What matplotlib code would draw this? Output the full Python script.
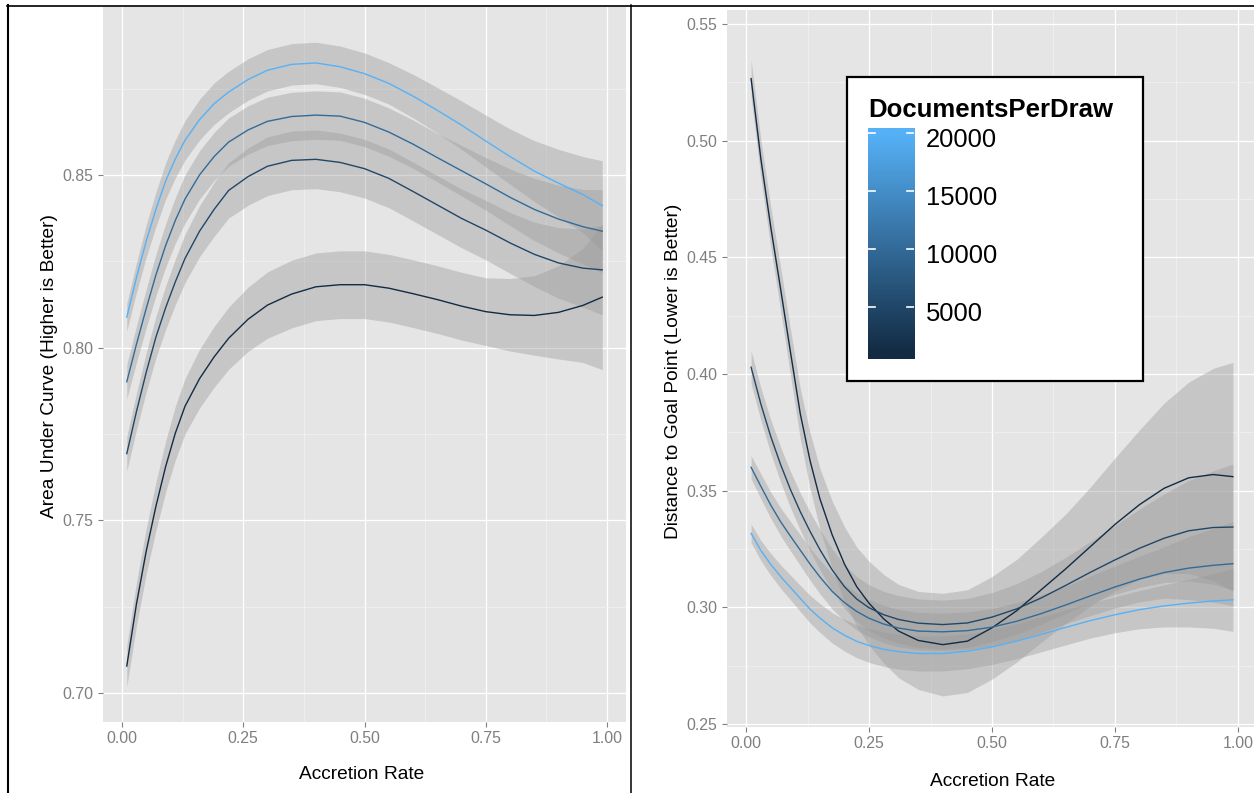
import matplotlib
matplotlib.use("Agg")
import numpy as np
import matplotlib.pyplot as plt
from matplotlib.colors import LinearSegmentedColormap, Normalize
from matplotlib.lines import Line2D
from matplotlib.patches import Rectangle
from matplotlib.ticker import FormatStrFormatter

plt.rcParams["font.family"] = ["Liberation Sans", "DejaVu Sans"]

W, H = 1254, 793

# ---- left panel: Area Under Curve (smooth fit + band half width) ----------
auc_x = [.01, .03, .05, .07, .09, .11, .13, .16, .19, .22, .26, .30, .35, .40, .45, .50,
         .55, .60, .65, .70, .75, .80, .85, .90, .95, .99]

auc_y_20000 = [.8088, .8203, .8308, .8400, .8482, .8546, .8600, .8660, .8706, .8740, .8776, .8803, .8820,
               .8824, .8813, .8793, .8765, .8728, .8687, .8644, .8598, .8553, .8511, .8476, .8443, .8411]
auc_se_20000 = [.004, .0043, .0047, .005, .0053, .0055, .0057, .0059, .006, .006, .006, .006, .006,
                .006, .006, .006, .006, .0063, .0066, .007, .0075, .008, .0088, .0098, .011, .013]

auc_y_10000 = [.7901, .8010, .8113, .8210, .8295, .8368, .8430, .8500, .8553, .8595, .8630, .8655, .8669,
               .8673, .8670, .8652, .8624, .8589, .8550, .8512, .8474, .8435, .8400, .8372, .8350, .8337]
auc_se_10000 = [.005, .0053, .0056, .006, .0063, .0066, .007, .007, .007, .007, .007, .007, .007,
                .007, .007, .007, .007, .007, .007, .0073, .0076, .0082, .009, .0098, .0108, .012]

auc_y_5000 = [.7693, .7815, .7928, .8030, .8115, .8190, .8258, .8337, .8400, .8455, .8495, .8525, .8542,
              .8545, .8536, .8518, .8490, .8452, .8413, .8374, .8340, .8303, .8270, .8245, .8230, .8225]
auc_se_5000 = [.005, .0053, .0057, .006, .0063, .0066, .007, .0074, .0078, .008, .0083, .0085, .0085,
               .0085, .0085, .0085, .0085, .0085, .0085, .0085, .0086, .0088, .0093, .0102, .0113, .013]

auc_y_1000 = [.7078, .7258, .7410, .7540, .7655, .7752, .7830, .7910, .7973, .8027, .8082, .8123, .8155,
              .8176, .8182, .8182, .8172, .8156, .8139, .8120, .8104, .8095, .8093, .8102, .8122, .8146]
auc_se_1000 = [.006, .0063, .0066, .007, .0074, .0078, .008, .0085, .0088, .009, .0093, .0096, .0098,
               .0098, .0098, .0098, .0098, .0098, .0098, .0098, .0098, .0105, .0115, .0135, .0165, .021]

# ---- right panel: Distance to Goal Point -----------------------------------
dist_x = [.01, .03, .05, .07, .09, .11, .13, .15, .175, .20, .225, .25, .28, .31, .35, .40,
          .45, .50, .55, .60, .65, .70, .75, .80, .85, .90, .95, .99]

dist_y_20000 = [.3317, .3243, .3184, .3132, .3085, .3038, .2992, .2954, .2912, .2880, .2854, .2836, .2820, .2810,
                .2802, .2802, .2812, .2830, .2855, .2884, .2914, .2943, .2968, .2990, .3006, .3018, .3027, .3032]
dist_se_20000 = [.004, .0043, .0047, .005, .0053, .0056, .0059, .0062, .0065, .0068, .007, .0072, .0074, .0075,
                 .0075, .0075, .0075, .0075, .0075, .0075, .0075, .0075, .0077, .0082, .009, .0102, .0117, .0135]

dist_y_10000 = [.3600, .3518, .3438, .3367, .3305, .3245, .3185, .3130, .3068, .3020, .2982, .2953, .2928, .2911,
                .2898, .2895, .2900, .2915, .2940, .2973, .3010, .3049, .3087, .3121, .3149, .3168, .3180, .3187]
dist_se_10000 = [.005, .0053, .0056, .006, .0063, .0066, .0069, .0072, .0075, .0078, .008, .008, .008, .008,
                 .008, .008, .008, .008, .008, .008, .008, .0085, .009, .0098, .011, .0135, .0158, .018]

dist_y_5000 = [.4029, .3870, .3732, .3612, .3505, .3410, .3325, .3247, .3160, .3088, .3035, .2998, .2968, .2948,
               .2932, .2926, .2933, .2958, .2993, .3040, .3094, .3150, .3203, .3253, .3296, .3328, .3342, .3344]
dist_se_5000 = [.007, .007, .0072, .0075, .0078, .008, .0083, .0086, .009, .0093, .0096, .0098, .01, .0102,
                .0104, .0105, .0105, .0105, .0108, .0113, .012, .0132, .0148, .0168, .019, .0215, .0243, .027]

dist_y_1000 = [.5266, .4920, .4630, .4365, .4095, .3830, .3628, .3465, .3310, .3185, .3088, .3017, .2950, .2898,
               .2858, .2840, .2855, .2912, .2985, .3075, .3165, .3260, .3355, .3440, .3510, .3555, .3569, .3560]
dist_se_1000 = [.008, .0082, .0087, .0093, .0099, .0108, .012, .013, .0145, .016, .017, .018, .019, .020,
                .021, .022, .022, .022, .022, .0225, .0235, .0255, .0285, .032, .0365, .041, .0455, .049]

docs_per_draw = [1000, 5000, 10000, 20000]
auc_series = [(auc_y_1000, auc_se_1000), (auc_y_5000, auc_se_5000),
              (auc_y_10000, auc_se_10000), (auc_y_20000, auc_se_20000)]
dist_series = [(dist_y_1000, dist_se_1000), (dist_y_5000, dist_se_5000),
               (dist_y_10000, dist_se_10000), (dist_y_20000, dist_se_20000)]

x_ticks = [0.0, 0.25, 0.5, 0.75, 1.0]
auc_yticks = [0.70, 0.75, 0.80, 0.85]
dist_yticks = [0.25, 0.30, 0.35, 0.40, 0.45, 0.50, 0.55]
cb_limits = (1000, 20000)
cb_ticks = [5000, 10000, 15000, 20000]

cmap = LinearSegmentedColormap.from_list("gg_blue", ["#132B43", "#56B1F7"])
norm = Normalize(*cb_limits)
GREY = "#7F7F7F"


def px_box(l, t, r, b):
    return [l / W, 1 - b / H, (r - l) / W, (b - t) / H]


def midpoints(v):
    v = np.asarray(v)
    return (v[:-1] + v[1:]) / 2


def style(ax, ylim, yticks):
    ax.set_facecolor("#E5E5E5")
    ax.set_xticks(x_ticks)
    ax.set_yticks(yticks)
    ax.set_xticks(midpoints(x_ticks), minor=True)
    ax.set_yticks(list(midpoints(yticks)) + [yticks[-1] + 0.025], minor=True)
    # limits after ticks, otherwise set_yticks widens them
    ax.set_xlim(-0.039, 1.039)
    ax.set_ylim(*ylim)
    ax.xaxis.set_major_formatter(FormatStrFormatter("%.2f"))
    ax.yaxis.set_major_formatter(FormatStrFormatter("%.2f"))
    ax.grid(which="major", color="white", lw=0.9)
    ax.grid(which="minor", color="#F2F2F2", lw=0.5)
    ax.set_axisbelow(True)
    ax.tick_params(which="minor", length=0)
    ax.tick_params(which="major", length=3.6, width=0.8, color=GREY,
                   labelcolor=GREY, labelsize=11.4, pad=3.2)
    for s in ax.spines.values():
        s.set_visible(False)


def smooth_layers(ax, xs, series):
    xs = np.asarray(xs)
    for val, (ys, se) in zip(docs_per_draw, series):
        ys, se = np.asarray(ys), np.asarray(se)
        ax.fill_between(xs, ys - se, ys + se, color="#999999", alpha=0.4, lw=0)
        ax.plot(xs, ys, color=cmap(norm(val)), lw=1.0)


fig = plt.figure(figsize=(W / 100, H / 100), dpi=100)

ax1 = fig.add_axes(px_box(103, 7, 626, 722))
style(ax1, (0.6916, 0.8986), auc_yticks)
smooth_layers(ax1, auc_x, auc_series)

ax2 = fig.add_axes(px_box(727, 10, 1257, 727))
style(ax2, (0.2487, 0.556), dist_yticks)
smooth_layers(ax2, dist_x, dist_series)

# axis titles
fig.text(362 / W, 1 - 779 / H, "Accretion Rate", ha="center", va="baseline", fontsize=13.8)
fig.text(993 / W, 1 - 786.5 / H, "Accretion Rate", ha="center", va="baseline", fontsize=13.8)
fig.text(50 / W, 1 - 366 / H, "Area Under Curve (Higher is Better)", rotation=90,
         ha="center", va="center", fontsize=13.8)
fig.text(673 / W, 1 - 371 / H, "Distance to Goal Point (Lower is Better)", rotation=90,
         ha="center", va="center", fontsize=13.8)

# legend box with colour bar
fig.add_artist(Rectangle((847 / W, 1 - 381 / H), (1143 - 847) / W, (381 - 77) / H,
                         transform=fig.transFigure, facecolor="white",
                         edgecolor="black", lw=1.6, zorder=3))
fig.text(868 / W, 1 - 116.7 / H, "DocumentsPerDraw", fontsize=18.5, fontweight="bold",
         va="baseline", zorder=5)

pad = (cb_limits[1] - cb_limits[0]) / 19 / 2
cax = fig.add_axes(px_box(868, 127.5, 914, 359.5))
cax.set_zorder(4)
grad = np.linspace(cb_limits[0] - pad, cb_limits[1] + pad, 256)[:, None]
cax.imshow(grad, aspect="auto", cmap=cmap, norm=norm, origin="lower",
           extent=[0, 1, cb_limits[0] - pad, cb_limits[1] + pad])
cax.set_xlim(0, 1)
cax.set_ylim(cb_limits[0] - pad, cb_limits[1] + pad)
cax.axis("off")
for v in cb_ticks:
    cax.plot([0, 0.16], [v, v], color="white", lw=1.2)
    cax.plot([0.84, 1], [v, v], color="white", lw=1.2)
    cax.annotate(str(v), xy=(1, v), xycoords=("axes fraction", "data"),
                 xytext=(12, -13.4), textcoords="offset pixels",
                 ha="left", va="baseline", fontsize=18.4, annotation_clip=False)

# screenshot frame lines
def frame(x0, y0, x1, y1, lw):
    fig.add_artist(Line2D([x0 / W, x1 / W], [1 - y0 / H, 1 - y1 / H],
                          transform=fig.transFigure, color="black", lw=lw, zorder=6))

frame(7.5, 5, 7.5, 793, 1.5)
frame(7, 5.5, 1254, 5.5, 1.2)
frame(630.5, 5, 630.5, 793, 1.1)

fig.savefig("out.png", dpi=100)
